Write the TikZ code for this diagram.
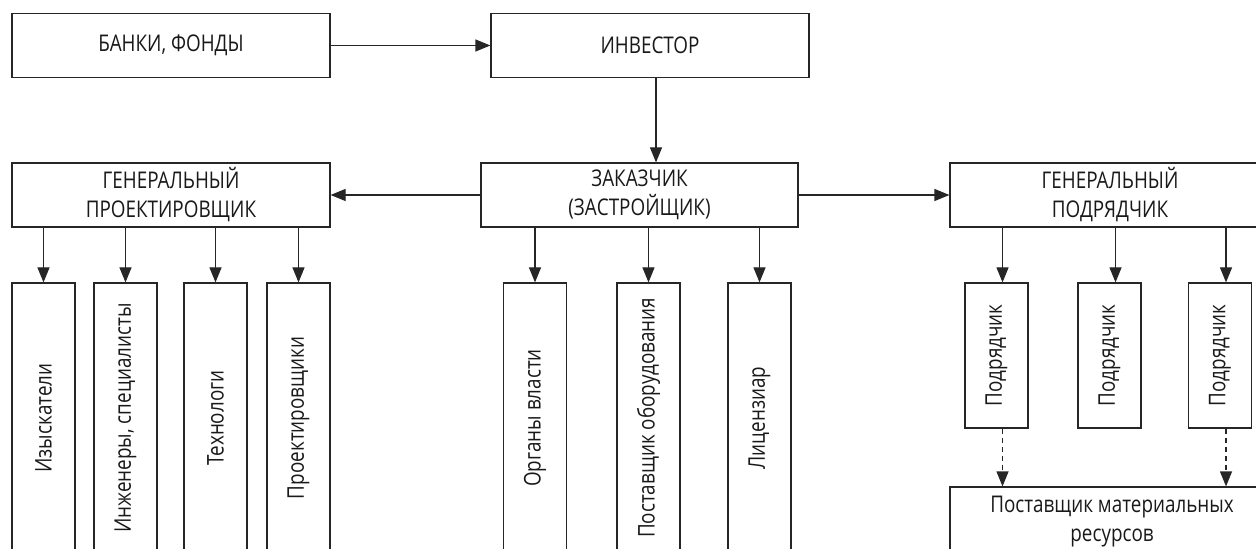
\documentclass[tikz,border=0pt]{standalone}
\usepackage{fontspec}
\setmainfont{Open Sans}[FakeStretch=0.82]
\usetikzlibrary{arrows.meta}
\tikzstyle{node:box}=[draw=black!85,line width=0.6pt,minimum width=159pt,minimum height=32pt,inner sep=0pt,align=center,text=black!90,font=\fontsize{11.5}{14.5}\selectfont]
\tikzstyle{node:tall}=[node:box,rotate=90,minimum width=135pt,minimum height=31.5pt]
\tikzstyle{node:short}=[node:box,rotate=90,minimum width=72.5pt,minimum height=31.5pt]
\tikzstyle{draw:connection}=[-{Triangle[length=7.5pt,width=6pt]},line width=0.6pt,draw=black!85]
\tikzstyle{draw:dashedconnection}=[draw:connection,dash pattern=on 2.5pt off 2pt]
\begin{document}
\begin{tikzpicture}[x=0.5pt,y=-0.5pt]
        \useasboundingbox (0,0) rectangle (1256,549);
        \clip (0,0) rectangle (1256,549);

        % Top row
        \node[node:box] (banks) at (171,45.5) {БАНКИ, ФОНДЫ};
        \node[node:box] (investor) at (650,45.5) {ИНВЕСТОР};

        % Second row
        \node[node:box] (designer) at (171,195) {ГЕНЕРАЛЬНЫЙ\\ПРОЕКТИРОВЩИК};
        \node[node:box,minimum width=158.5pt] (client) at (639.5,195) {ЗАКАЗЧИК\\(ЗАСТРОЙЩИК)};
        \node[node:box,minimum width=160pt] (contractor) at (1110,195) {ГЕНЕРАЛЬНЫЙ\\ПОДРЯДЧИК};

        % Under the general designer (4 nodes)
        \node[node:tall] (D-1) at (43.5,418) {Изыскатели};
        \node[node:tall] (D-2) at (125.5,418) {Инженеры, специалисты};
        \node[node:tall] (D-3) at (215.5,418) {Технологи};
        \node[node:tall] (D-4) at (298.5,418) {Проектировщики};

        % Under the client (3 nodes)
        \node[node:tall] (C-1) at (535,418) {Органы власти};
        \node[node:tall] (C-2) at (648.5,418) {Поставщик оборудования};
        \node[node:tall] (C-3) at (759.5,418) {Лицензиар};

        % Under the general contractor (3 nodes)
        \node[node:short] (S-1) at (996.5,355.5) {Подрядчик};
        \node[node:short] (S-2) at (1109.5,355.5) {Подрядчик};
        \node[node:short] (S-3) at (1220,355.5) {Подрядчик};
        \node[node:box,minimum width=162pt,minimum height=35pt] (supplier) at (1112,522) {Поставщик материальных\\ресурсов};

        % draw:connections in the top rows
        \draw[draw:connection] (banks) -- (investor);
        \draw[draw:connection] ([xshift=3pt]investor.south) -- ([xshift=3pt]investor.south |- client.north);
        \draw[draw:connection] (client) -- (designer);
        \draw[draw:connection] (client) -- (contractor);

        % draw:connections from the second row down
        \foreach \i in {1,2,3,4} {
                \draw[draw:connection] (designer.south -| D-\i.east) -- (D-\i.east);
            }
        \foreach \i in {1,2,3} {
                \draw[draw:connection] (client.south -| C-\i.east) -- (C-\i.east);
            }
        \foreach \i in {1,2,3} {
                \draw[draw:connection] ([xshift=3pt]S-\i.east |- contractor.south) -- ([xshift=3pt]S-\i.east);
            }

        % dashed draw:connections to the supplier
        \foreach \i in {1,3} {
                \draw[draw:dashedconnection] ([xshift=3pt]S-\i.west) -- ([xshift=3pt]S-\i.west |- supplier.north);
            }
    \end{tikzpicture}
\end{document}
